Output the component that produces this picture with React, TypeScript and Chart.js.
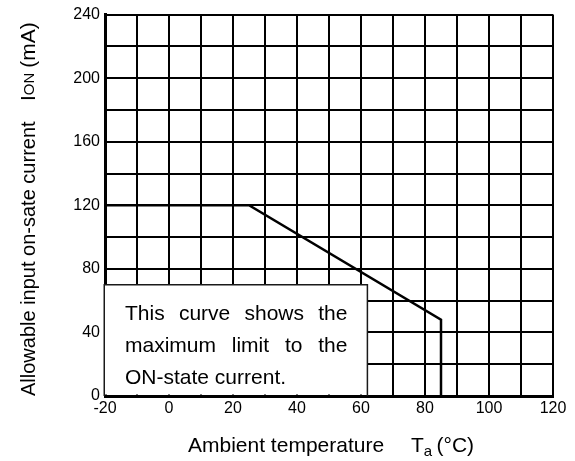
import React, { useEffect, useRef } from 'react';
import { Chart, registerables } from 'chart.js';

Chart.register(...registerables);

// ---- data ----
const curveTemp = [-20, 25, 85, 85];
const curveCurrent = [120, 120, 48, 0];

const xMin = -20;
const xMax = 120;
const xGridStep = 10;
const xLabelStep = 20;
const yMin = 0;
const yMax = 240;
const yGridStep = 20;
const yLabelStep = 40;

const noteBoxX = [-20, 62];
const noteBoxY = [0, 70];
const noteLines = [
  ['This', 'curve', 'shows', 'the'],
  ['maximum', 'limit', 'to', 'the'],
  ['ON-state current.'],
];

const xTitleMain = 'Ambient temperature';
const xTitleSym = 'T';
const xTitleSub = 'a';
const xTitleUnit = '(°C)';
const yTitleMain = 'Allowable input on-sate current';
const yTitleSym = 'I';
const yTitleSub = 'ON';
const yTitleUnit = '(mA)';

const FAMILY = '"Liberation Sans", Arial, Helvetica, sans-serif';

const overlayPlugin = {
  id: 'overlay',
  afterDatasetsDraw(chart: any) {
    const { ctx, scales } = chart;
    const x = scales.x;
    const y = scales.y;
    const l = x.getPixelForValue(noteBoxX[0]);
    const r = x.getPixelForValue(noteBoxX[1]);
    const t = y.getPixelForValue(noteBoxY[1]);
    const b = y.getPixelForValue(noteBoxY[0]);
    ctx.save();
    ctx.fillStyle = '#ffffff';
    ctx.fillRect(l - 1.5, t, r - l + 1.5, b - t - 1.5);
    ctx.strokeStyle = '#1a1a1a';
    ctx.lineWidth = 1.5;
    ctx.beginPath();
    ctx.moveTo(l - 0.75, b);
    ctx.lineTo(l - 0.75, t);
    ctx.lineTo(r, t);
    ctx.lineTo(r, b);
    ctx.stroke();

    ctx.fillStyle = '#000';
    ctx.font = `21px ${FAMILY}`;
    ctx.textBaseline = 'alphabetic';
    ctx.textAlign = 'left';
    const tl = l + 20;
    const tr = r - 20;
    const baselines = [t + 35.5, t + 67.5, t + 99];
    noteLines.forEach((words, i) => {
      const by = baselines[i];
      if (words.length === 1) {
        ctx.fillText(words[0], tl, by);
        return;
      }
      const widths = words.map((w) => ctx.measureText(w).width);
      const sum = widths.reduce((a, c) => a + c, 0);
      const gap = (tr - tl - sum) / (words.length - 1);
      let cx = tl;
      words.forEach((w, j) => {
        ctx.fillText(w, cx, by);
        cx += widths[j] + gap;
      });
    });
    ctx.restore();
  },
  afterDraw(chart: any) {
    const { ctx } = chart;
    ctx.save();
    ctx.fillStyle = '#000';
    ctx.textBaseline = 'alphabetic';
    ctx.textAlign = 'left';
    // x title
    ctx.font = `21px ${FAMILY}`;
    ctx.fillText(xTitleMain, 188, 452);
    let cx = 411;
    ctx.fillText(xTitleSym, cx, 452);
    cx += ctx.measureText(xTitleSym).width;
    ctx.font = `15px ${FAMILY}`;
    ctx.fillText(xTitleSub, cx, 456);
    ctx.font = `21px ${FAMILY}`;
    ctx.fillText(xTitleUnit, 436.5, 452);

    // y title
    ctx.translate(35, 396);
    ctx.rotate(-Math.PI / 2);
    ctx.font = `20px ${FAMILY}`;
    ctx.fillText(yTitleMain, 0, 0);
    let px = 295;
    ctx.font = `21px ${FAMILY}`;
    ctx.fillText(yTitleSym, px, 0);
    px += ctx.measureText(yTitleSym).width;
    ctx.font = `15px ${FAMILY}`;
    ctx.fillText(yTitleSub, px, -1.5);
    px += ctx.measureText(yTitleSub).width + 5;
    ctx.font = `21px ${FAMILY}`;
    ctx.fillText(yTitleUnit, px, 0);
    ctx.restore();
  },
};

export default function App() {
  const ref = useRef<HTMLCanvasElement>(null);
  useEffect(() => {
    if (!ref.current) return;
    const chart = new Chart(ref.current, {
      type: 'scatter',
      data: {
        datasets: [
          {
            data: curveTemp.map((t, i) => ({ x: t, y: curveCurrent[i] })),
            showLine: true,
            borderColor: '#000',
            borderWidth: 2.5,
            pointRadius: 0,
            pointHoverRadius: 0,
            fill: false,
            tension: 0,
          },
        ],
      },
      options: {
        responsive: false,
        animation: false,
        events: [],
        layout: { padding: { left: 0, top: 12, right: 22, bottom: 0 } },
        plugins: {
          legend: { display: false },
          tooltip: { enabled: false },
          title: { display: false },
        },
        scales: {
          x: {
            type: 'linear',
            min: xMin,
            max: xMax,
            afterFit: (s: any) => {
              s.height = 65;
            },
            ticks: {
              stepSize: xGridStep,
              autoSkip: false,
              maxRotation: 0,
              padding: 3,
              color: '#000',
              font: { family: FAMILY, size: 16 },
              callback: (v: any) => (Number(v) % xLabelStep === 0 ? String(v) : ''),
            },
            grid: { color: '#000', lineWidth: 2, drawTicks: false },
            border: { color: '#000', width: 3 },
          },
          y: {
            type: 'linear',
            min: yMin,
            max: yMax,
            afterFit: (s: any) => {
              s.width = 105;
            },
            ticks: {
              stepSize: yGridStep,
              autoSkip: false,
              padding: 5,
              color: '#000',
              font: { family: FAMILY, size: 16 },
              callback: (v: any) => (Number(v) % yLabelStep === 0 ? String(v) : ''),
            },
            grid: { color: '#000', lineWidth: 2, drawTicks: false },
            border: { color: '#000', width: 3 },
          },
        },
      },
      plugins: [overlayPlugin],
    });
    return () => chart.destroy();
  }, []);
  return (
    <div style={{ position: 'fixed', left: 0, top: 0, width: 575, height: 461, background: '#fff' }}>
      <canvas ref={ref} width={575} height={461} style={{ display: 'block' }} />
    </div>
  );
}
